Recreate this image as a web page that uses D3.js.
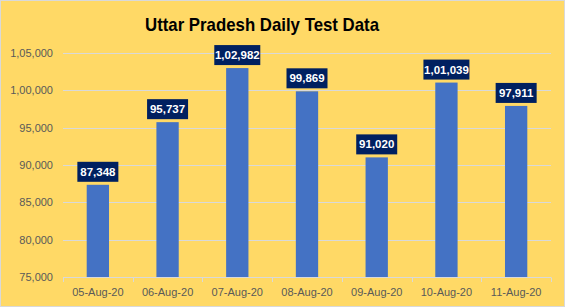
<!DOCTYPE html>
<html>
<head>
<meta charset="utf-8">
<script src="https://cdn.jsdelivr.net/npm/d3@7"></script>
<style>
  body { margin: 0; background: #fff; }
  text { font-family: "Liberation Sans", Arial, sans-serif; }
</style>
</head>
<body>
<script>
var dates = ["05-Aug-20", "06-Aug-20", "07-Aug-20", "08-Aug-20", "09-Aug-20", "10-Aug-20", "11-Aug-20"];
var tests = [87348, 95737, 102982, 99869, 91020, 101039, 97911];
var tickValues = [75000, 80000, 85000, 90000, 95000, 100000, 105000];
var tickLabels = ["75,000", "80,000", "85,000", "90,000", "95,000", "1,00,000", "1,05,000"];
var valueLabels = ["87,348", "95,737", "1,02,982", "99,869", "91,020", "1,01,039", "97,911"];

var width = 566,
  height = 308;

var svg = d3.select("body").append("svg")
  .attr("width", width)
  .attr("height", height);

// chart area
svg.append("rect")
  .attr("x", 0.5).attr("y", 0.5)
  .attr("width", 564).attr("height", 306)
  .style("fill", "#FFD966")
  .style("stroke", "#d9d9d9");

var x = d3.scaleBand()
  .domain(dates)
  .range([63, 551])
  .paddingInner(0.68)
  .paddingOuter(0.34);

var y = d3.scaleLinear()
  .domain([75000, 105000])
  .range([277, 53]);

// gridlines
svg.selectAll(".grid")
  .data(tickValues)
  .enter().append("line")
  .attr("x1", 63).attr("x2", 551)
  .attr("y1", function(d) { return Math.round(y(d)) + 0.5; })
  .attr("y2", function(d) { return Math.round(y(d)) + 0.5; })
  .style("stroke", "#d9d9d9")
  .style("stroke-width", "1px");

// y labels
svg.selectAll(".ylab")
  .data(tickValues)
  .enter().append("text")
  .attr("x", 53)
  .attr("y", function(d) { return y(d); })
  .attr("dy", "0.35em")
  .style("text-anchor", "end")
  .style("font-size", "11px")
  .style("fill", "#595959")
  .text(function(d, i) { return tickLabels[i]; });

// x axis
var xAxis = d3.axisBottom(x).tickSize(0).tickPadding(11);
var gx = svg.append("g")
  .attr("transform", "translate(0,277.5)")
  .call(xAxis);
gx.select(".domain").remove();
gx.selectAll("text")
  .style("font-family", "Liberation Sans, Arial, sans-serif")
  .style("font-size", "11px")
  .style("fill", "#595959");

var step = x.step();
svg.selectAll(".xtick")
  .data(d3.range(dates.length + 1))
  .enter().append("line")
  .attr("x1", function(i) { return Math.round(63 + i * (488 / dates.length)) + 0.5; })
  .attr("x2", function(i) { return Math.round(63 + i * (488 / dates.length)) + 0.5; })
  .attr("y1", 277.5).attr("y2", 282)
  .style("stroke", "#d9d9d9");

// bars
svg.selectAll(".bar")
  .data(tests)
  .enter().append("rect")
  .attr("x", function(d, i) { return x(dates[i]); })
  .attr("width", x.bandwidth())
  .attr("y", function(d) { return y(d); })
  .attr("height", function(d) { return y(75000) - y(d); })
  .style("fill", "#4472C4");

// value labels
var labels = svg.selectAll(".lab")
  .data(tests)
  .enter().append("g")
  .attr("transform", function(d, i) {
    return "translate(" + (x(dates[i]) + x.bandwidth() / 2) + "," + (y(d) - 3) + ")";
  });

labels.append("rect")
  .attr("x", function(d, i) { return valueLabels[i].length > 6 ? -23 : -20.5; })
  .attr("width", function(d, i) { return valueLabels[i].length > 6 ? 46 : 41; })
  .attr("y", -20)
  .attr("height", 20)
  .style("fill", "#002060");

labels.append("text")
  .attr("y", -6)
  .style("text-anchor", "middle")
  .style("font-size", "11.5px")
  .style("font-weight", "bold")
  .style("fill", "#ffffff")
  .text(function(d, i) { return valueLabels[i]; });

// title
svg.append("text")
  .attr("x", 262)
  .attr("y", 31)
  .style("text-anchor", "middle")
  .style("font-size", "19px")
  .style("font-weight", "bold")
  .style("fill", "#000")
  .attr("textLength", 234)
  .attr("lengthAdjust", "spacingAndGlyphs")
  .text("Uttar Pradesh Daily Test Data");
</script>
</body>
</html>
